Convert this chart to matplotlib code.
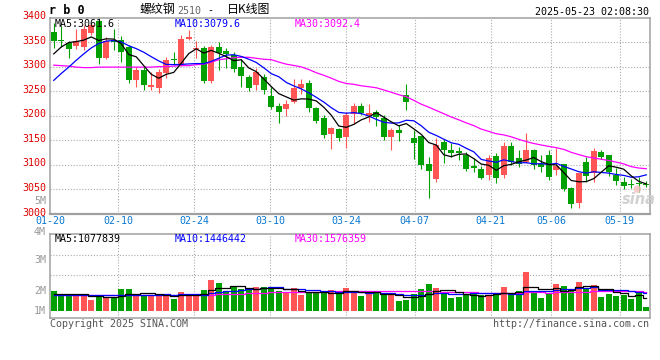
import numpy as np
import matplotlib
matplotlib.use("Agg")
import matplotlib.pyplot as plt
from matplotlib.transforms import blended_transform_factory

# ---------------- data ----------------
opens = [3370, 3355, 3349, 3343, 3339, 3369, 3392, 3317, 3354, 3354,
         3340, 3273, 3294, 3258, 3257, 3287, 3316, 3306, 3357, 3336,
         3338, 3270, 3340, 3331, 3323, 3299, 3279, 3263, 3279, 3240,
         3219, 3214, 3229, 3257, 3267, 3215, 3196, 3162, 3173, 3157,
         3204, 3219, 3202, 3208, 3196, 3157, 3171, 3243, 3154, 3158,
         3102, 3072, 3146, 3130, 3128, 3121, 3098, 3091, 3080, 3118,
         3079, 3138, 3113, 3106, 3130, 3101, 3120, 3089, 3101, 3052,
         3022, 3106, 3084, 3127, 3120, 3079, 3066, 3062, 3062, 3062]
highs = [3389, 3382, 3353, 3376, 3384, 3389, 3399, 3361, 3376, 3362,
         3345, 3299, 3299, 3289, 3296, 3320, 3330, 3365, 3375, 3353,
         3343, 3345, 3351, 3338, 3330, 3316, 3282, 3297, 3286, 3259,
         3225, 3232, 3274, 3274, 3272, 3218, 3201, 3177, 3176, 3208,
         3225, 3225, 3223, 3211, 3201, 3176, 3181, 3264, 3171, 3158,
         3116, 3154, 3152, 3145, 3137, 3127, 3113, 3098, 3120, 3125,
         3147, 3147, 3130, 3165, 3133, 3120, 3130, 3135, 3101, 3054,
         3083, 3116, 3135, 3130, 3121, 3093, 3076, 3072, 3076, 3067]
lows = [3338, 3340, 3317, 3335, 3334, 3365, 3305, 3315, 3334, 3309,
        3267, 3258, 3252, 3252, 3246, 3276, 3303, 3301, 3355, 3317,
        3267, 3267, 3294, 3298, 3289, 3259, 3250, 3253, 3245, 3213,
        3186, 3200, 3225, 3245, 3208, 3185, 3154, 3133, 3148, 3135,
        3184, 3201, 3188, 3179, 3150, 3130, 3149, 3211, 3112, 3091,
        3033, 3066, 3103, 3116, 3110, 3087, 3085, 3071, 3069, 3064,
        3074, 3100, 3096, 3103, 3091, 3086, 3069, 3080, 3047, 3013,
        3013, 3066, 3066, 3112, 3077, 3059, 3050, 3052, 3044, 3055]
closes = [3352, 3353, 3336, 3353, 3376, 3384, 3317, 3353, 3350, 3330,
          3273, 3294, 3263, 3262, 3290, 3313, 3313, 3357, 3360, 3338,
          3270, 3340, 3328, 3326, 3296, 3280, 3257, 3290, 3252, 3218,
          3208, 3224, 3257, 3265, 3216, 3189, 3160, 3176, 3155, 3202,
          3219, 3206, 3206, 3198, 3157, 3171, 3165, 3229, 3145, 3100,
          3088, 3140, 3130, 3125, 3125, 3091, 3093, 3074, 3113, 3074,
          3138, 3106, 3101, 3130, 3100, 3096, 3076, 3098, 3051, 3020,
          3083, 3078, 3128, 3116, 3086, 3068, 3058, 3060, 3061, 3059]
# volume in millions of lots
volumes = [1.64, 1.31, 1.36, 1.36, 1.31, 0.89, 1.17, 1.17, 1.08, 1.83,
           1.83, 1.22, 1.22, 1.31, 1.39, 1.31, 0.97, 1.56, 1.31, 1.39,
           1.72, 2.56, 2.31, 1.53, 1.97, 1.83, 1.72, 1.97, 1.97, 1.97,
           1.64, 1.56, 1.89, 1.31, 1.47, 1.47, 1.47, 1.72, 1.45, 1.92,
           1.64, 1.25, 1.39, 1.45, 1.39, 1.31, 0.81, 0.89, 1.39, 1.81,
           2.22, 1.92, 1.45, 1.08, 1.17, 1.31, 1.39, 1.31, 1.31, 1.45,
           1.97, 1.47, 1.64, 3.22, 1.64, 1.08, 1.36, 2.22, 2.06, 1.70,
           2.40, 1.86, 2.12, 1.17, 1.42, 1.25, 1.28, 1.00, 1.50, 0.35]

# moving-average values before enough bars exist
ma5_head = [3326, 3340, 3349, 3351]
ma10_head = [3272, 3286, 3299, 3313, 3326, 3338, 3347, 3352, 3353]
ma30_head = [3303, 3302, 3301, 3299, 3298, 3298, 3299, 3299, 3299, 3299,
             3299, 3299, 3299, 3299, 3300, 3300, 3301, 3302, 3302, 3304,
             3305, 3309, 3314, 3316, 3318, 3319, 3319, 3317, 3315]
vol_ma5_head = [1.37, 1.37, 1.37, 1.36]
vol_ma10_head = [1.29, 1.29, 1.30, 1.30, 1.31, 1.30, 1.29, 1.28, 1.28]
vol_ma30_head = [1.31, 1.31, 1.31, 1.31, 1.31, 1.31, 1.31, 1.31, 1.31, 1.31,
                 1.31, 1.31, 1.31, 1.31, 1.31, 1.31, 1.31, 1.31, 1.31, 1.31,
                 1.32, 1.34, 1.36, 1.38, 1.40, 1.42, 1.44, 1.46, 1.48]

date_tick_index = [0, 9, 19, 29, 39, 48, 58, 66, 75]
date_tick_labels = ["01-20", "02-10", "02-24", "03-10", "03-24",
                    "04-07", "04-21", "05-06", "05-19"]
price_ticks = [3000, 3050, 3100, 3150, 3200, 3250, 3300, 3350, 3400]
vol_tick_labels = ["5M", "4M", "3M", "2M", "1M"]
price_ma_texts = ["MA5:3061.6", "MA10:3079.6", "MA30:3092.4"]
vol_ma_texts = ["MA5:1077839", "MA10:1446442", "MA30:1576359"]

# ---------------- helpers ----------------
W, H = 660, 360


def moving_avg(values, n, head):
    v = np.asarray(values, float)
    out = np.empty(len(v))
    out[:n - 1] = head
    for i in range(n - 1, len(v)):
        out[i] = v[i - n + 1:i + 1].mean()
    return out


def fx(px):
    return px / W


def fy(py):
    return 1 - py / H


UP = "#ff5555"
DOWN = "#00a000"
GRID = "#aaaaaa"
FRAME = "#a0a0a0"
MONO = "DejaVu Sans Mono"
FS = 7.2

o = np.array(opens, float)
h = np.array(highs, float)
l = np.array(lows, float)
c = np.array(closes, float)
vol = np.array(volumes, float)
n = len(c)
x = np.arange(n)
up = c >= o
cols = np.where(up, UP, DOWN)

fig = plt.figure(figsize=(W / 100, H / 100), dpi=100)
fig.patch.set_facecolor("white")

# price panel: pixel 50..650 horizontally, 17.5 (3400) .. 214 (3000)
ax = fig.add_axes([fx(50), fy(214), 600 / W, (214 - 17.5) / H])
axv = fig.add_axes([fx(50), fy(318), 600 / W, (318 - 234) / H])

PX_PER_M = 12.0
for a in (ax, axv):
    a.set_xlim(-0.5, n - 0.5)
    a.set_xticks([])
    a.set_yticks([])
    for s in a.spines.values():
        s.set_color(FRAME)
        s.set_linewidth(1.1)
ax.spines["bottom"].set_linewidth(1.6)
ax.set_ylim(3000, 3400)
axv.set_ylim(-7.3 / PX_PER_M, 76.7 / PX_PER_M)

grid_x = [k * n / (n - 1) - 0.5 for k in date_tick_index]
dot = (0, (1, 1.6))
for gx in grid_x[1:]:
    ax.axvline(gx, color=GRID, lw=0.8, ls=dot, zorder=0)
    axv.axvline(gx, color=GRID, lw=0.8, ls=dot, zorder=0)
for p in price_ticks[1:-1]:
    ax.axhline(p, color=GRID, lw=0.8, ls=dot, zorder=0)
for py in (255, 275):
    axv.axhline((310.7 - py) / PX_PER_M, color=GRID, lw=0.8, ls=dot, zorder=0)

# candles
ax.vlines(x, l, h, colors=cols, lw=0.8, zorder=2)
body_h = np.maximum(np.abs(c - o), 1.8)
ax.bar(x, body_h, bottom=np.minimum(o, c), width=0.8, color=cols,
       linewidth=0, zorder=3)

# price MAs
ax.plot(x, moving_avg(c, 30, ma30_head), color="#ff00ff", lw=0.9, zorder=4)
ax.plot(x, moving_avg(c, 10, ma10_head), color="#0000ff", lw=0.9, zorder=4)
ax.plot(x, moving_avg(c, 5, ma5_head), color="black", lw=0.9, zorder=4)

# volume bars + MAs
axv.bar(x, vol, width=0.8, color=cols, linewidth=0, zorder=2)
axv.plot(x, moving_avg(vol, 30, vol_ma30_head), color="#ff00ff", lw=0.9,
         drawstyle="steps-mid", zorder=4)
axv.plot(x, moving_avg(vol, 10, vol_ma10_head), color="#0000ff", lw=0.9,
         drawstyle="steps-mid", zorder=4)
axv.plot(x, moving_avg(vol, 5, vol_ma5_head), color="black", lw=0.9,
         drawstyle="steps-mid", zorder=4)

# price labels (left, red)
tr = blended_transform_factory(fig.transFigure, ax.transData)
for p in price_ticks:
    fig.text(fx(46), p + 3, str(p), transform=tr, ha="right", va="center",
             color="#dd0000", family=MONO, fontsize=FS)

# volume labels (grey, Sina-style positions)
for lab, py in zip(vol_tick_labels, [200.7, 231.5, 260, 290.7, 311]):
    fig.text(fx(46), fy(py), lab, ha="right", va="center",
             color="#999999", family=MONO, fontsize=FS)

# date labels
trx = blended_transform_factory(ax.transData, fig.transFigure)
for gx, lab in zip(grid_x, date_tick_labels):
    fig.text(gx, fy(221.5), lab, transform=trx, ha="center", va="center",
             color="#0a78d2", family=MONO, fontsize=FS)

# MA legends
for txt, px, col in zip(price_ma_texts, [55, 175, 295],
                        ["black", "#0000ff", "#ff00ff"]):
    fig.text(fx(px), fy(24), txt, ha="left", va="center", color=col,
             family=MONO, fontsize=FS, zorder=10)
for txt, px, col in zip(vol_ma_texts, [55, 175, 295],
                        ["black", "#0000ff", "#ff00ff"]):
    fig.text(fx(px), fy(238.5), txt, ha="left", va="center", color=col,
             family=MONO, fontsize=FS, zorder=10)

# title row
fig.text(fx(49), fy(11), "r b 0", ha="left", va="center", color="black",
         family=MONO, fontweight="bold", fontsize=8.5)
cjk = ["Noto Sans CJK SC", "DejaVu Sans"]
fig.text(fx(140), fy(10), "螺纹钢", ha="left", va="center", color="black",
         family=cjk, fontsize=8.6)
fig.text(fx(177), fy(10.5), "2510", ha="left", va="center", color="#666666",
         family=MONO, fontsize=FS)
fig.text(fx(207), fy(10), "-", ha="left", va="center", color="black",
         family=MONO, fontsize=FS)
fig.text(fx(227), fy(10), "日K线图", ha="left", va="center", color="black",
         family=cjk, fontsize=8.6)
fig.text(fx(649), fy(12), "2025-05-23 02:08:30", ha="right", va="center",
         color="black", family=MONO, fontsize=FS)

# watermark
fig.text(fx(622), fy(200), "sina", ha="left", va="center", color="#cccccc",
         fontstyle="italic", fontweight="bold", fontsize=10.5, alpha=0.9)
fig.text(fx(632), fy(189), "●", ha="left", va="center", color="#f4c0c0",
         fontsize=7, alpha=0.8)

# footer
fig.text(fx(50), fy(324), "Copyright 2025 SINA.COM", ha="left", va="center",
         color="#555555", family=MONO, fontsize=FS)
fig.text(fx(649), fy(324), "http://finance.sina.com.cn", ha="right",
         va="center", color="#555555", family=MONO, fontsize=FS)

fig.savefig("out.png", dpi=100, facecolor="white")
